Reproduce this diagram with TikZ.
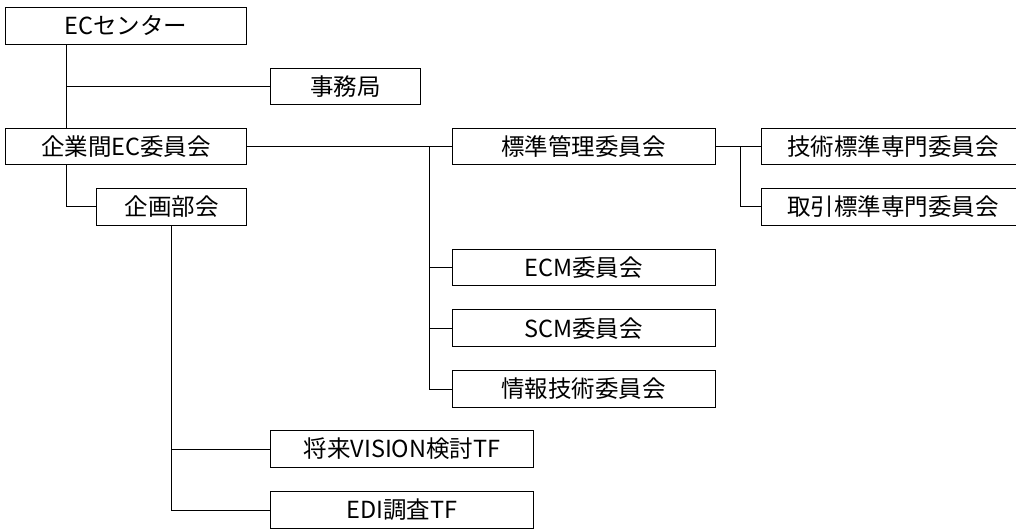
\documentclass[tikz,border=0pt]{standalone}
\usepackage{fontspec}
\newfontfamily\jpfont{Noto Sans CJK JP}
\usetikzlibrary{calc}
\tikzset{
%Define style for the boxes
unit/.style={draw, line width=1pt, inner sep=0pt, minimum height=36.7pt,
  font=\jpfont\fontsize{23.5}{28}\selectfont},
wide unit/.style={unit, minimum width=262.7pt},
mid unit/.style={unit, minimum width=241.4pt},
small unit/.style={unit, minimum width=150.5pt},
%Define style for the connectors
link/.style={line width=1pt},
}

\begin{document}
\begin{tikzpicture}[x=1pt,y=-1pt]

    % frame of the picture
    \useasboundingbox (0,0) rectangle (1016,529);

    % top level
    \node[mid unit] (center) at (126,25.7) {ECセンター};
    \node[small unit] (office) at (345.3,86.5) {事務局};
    \node[mid unit] (committee) at (126,146.5) {企業間EC委員会};
    \node[small unit] (planning) at (171.7,207) {企画部会};

    % committees
    \node[wide unit] (standard) at (583.7,146.5) {標準管理委員会};
    \node[wide unit] (ecm) at (583.7,267.5) {ECM委員会};
    \node[wide unit] (scm) at (583.7,328.3) {SCM委員会};
    \node[wide unit] (infotech) at (583.7,389) {情報技術委員会};

    % expert committees
    \node[wide unit] (technical) at (893,146.5) {技術標準専門委員会};
    \node[wide unit] (trading) at (893,206.7) {取引標準専門委員会};

    % task forces
    \node[wide unit] (vision) at (402,449) {将来VISION検討TF};
    \node[wide unit] (edi) at (402,510) {EDI調査TF};

    % branch points
    \coordinate (centerbus) at ([xshift=61.4pt]center.south west);
    \coordinate (committeebus) at ([xshift=61.4pt]committee.south west);
    \coordinate (standardbus) at (429.3,146.5);
    \coordinate (expertbus) at (740,146.5);

    % connectors
    \draw[link] (centerbus) -- (centerbus |- committee.north);
    \draw[link] (centerbus |- office.west) -- (office.west);
    \draw[link] (committeebus) |- (planning.west);

    \draw[link] (committee.east) -- (standard.west);
    \draw[link] (standardbus) |- (infotech.west);
    \draw[link] (standardbus |- ecm.west) -- (ecm.west);
    \draw[link] (standardbus |- scm.west) -- (scm.west);

    \draw[link] (standard.east) -- (technical.west);
    \draw[link] (expertbus) |- (trading.west);

    \draw[link] (planning.south) |- (edi.west);
    \draw[link] (planning.south |- vision.west) -- (vision.west);

\end{tikzpicture}
\end{document}
